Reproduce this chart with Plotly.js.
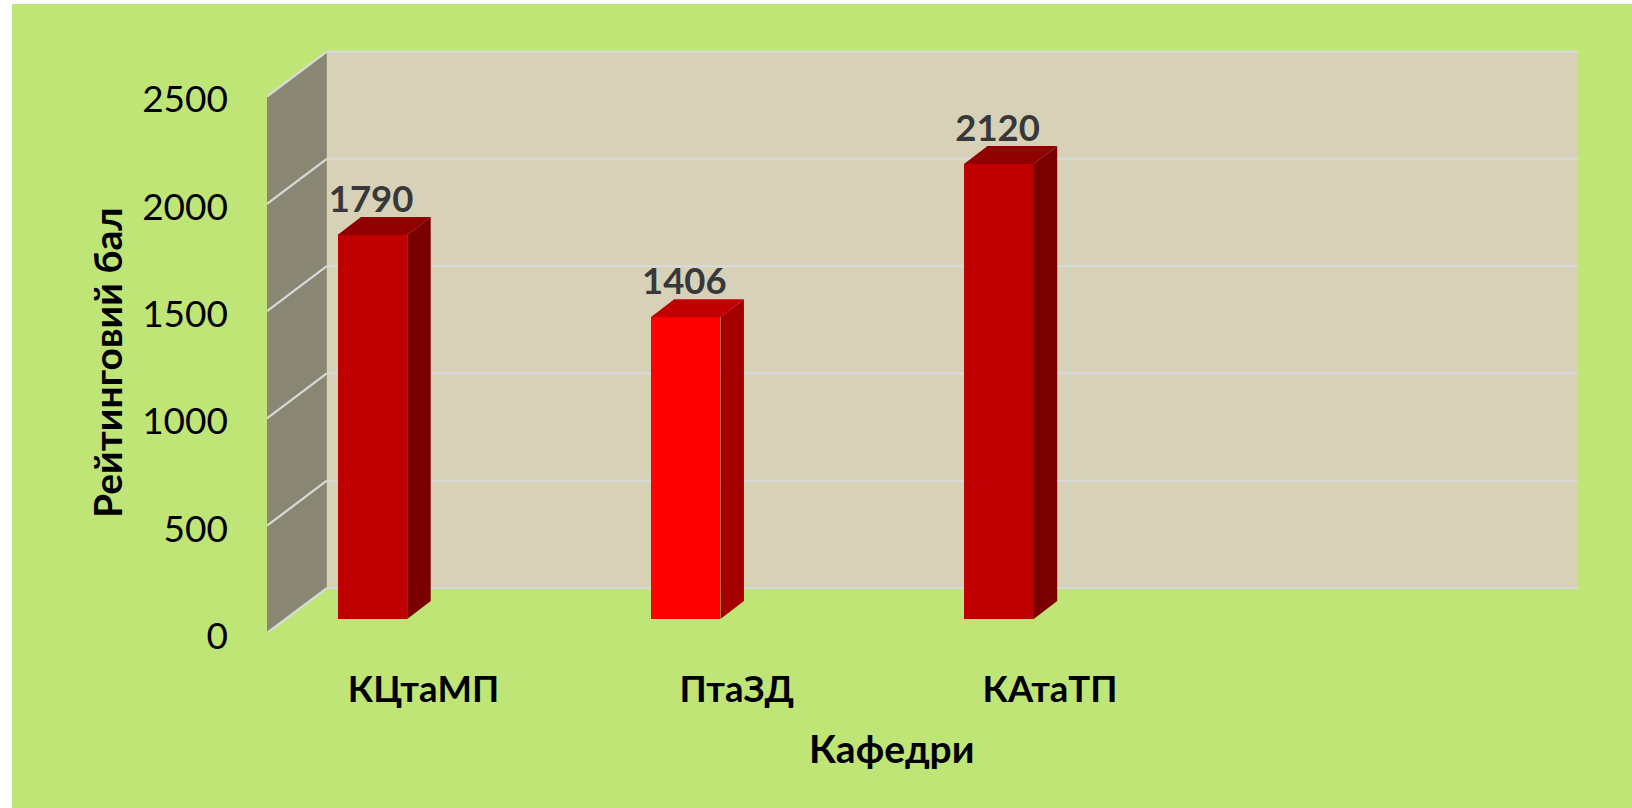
<!DOCTYPE html>
<html><head><meta charset="utf-8">
<script src="https://cdn.plot.ly/plotly-3.0.1.min.js"></script>
<style>html,body{margin:0;padding:0;background:#fff;overflow:hidden}#c{position:absolute;left:12px;top:4px;width:1620px;height:804px}</style>
</head><body><div id="c"></div>
<script>
const categories = ['КЦтаМП','ПтаЗД','КАтаТП'];
const values = [1790,1406,2120];
const yTicks = [0,500,1000,1500,2000,2500];
const frontColors = ['#C00000','#FF0000','#C00000'];
const sideColors = ['#7A0000','#A50000','#7A0000'];
const topColors = ['#900000','#C00000','#900000'];
const xTitle = 'Кафедри';
const yTitle = 'Рейтинговий бал';

const FONT = 'Lato, Carlito, Calibri, sans-serif';
const GREEN = '#BFE576', WALL = '#D7D1B8', SIDE = '#8A8674', GRID = '#D9D9D9';
const xRange = [-0.4996, 3.6855], yRange = [0, 2740];
const wallDx = 0.1909, wallDy = 209.5;
const barBase = 65.2, barOffset = -0.2745, barWidth = 0.2225, barDx = 0.075, barDy = 83.8;
const xL = xRange[0], xR = xRange[1];

const shapes = [];
const poly = (pts, fill) => shapes.push({type:'path', xref:'x', yref:'y', layer:'below',
  path:'M'+pts.map(p=>p[0]+','+p[1]).join('L')+'Z', fillcolor:fill, line:{width:0}});
const topTick = yTicks[yTicks.length-1];
poly([[xL+wallDx,wallDy],[xR,wallDy],[xR,topTick+wallDy],[xL+wallDx,topTick+wallDy]], WALL);
poly([[xL,0],[xL+wallDx,wallDy],[xL+wallDx,topTick+wallDy],[xL,topTick]], SIDE);
yTicks.forEach(t=>{
  const l = {xref:'x',yref:'y',layer:'below',type:'line',line:{color:GRID,width:2.2}};
  shapes.push({...l,x0:xL,y0:t,x1:xL+wallDx,y1:t+wallDy});
  shapes.push({...l,x0:xL+wallDx,y0:t+wallDy,x1:xR,y1:t+wallDy});
});

const traces = [{
  type:'bar', x:categories.map((_,i)=>i), y:values, base:barBase, offset:barOffset, width:barWidth,
  marker:{color:frontColors,line:{width:0}}, hoverinfo:'skip', showlegend:false
}];
const face = (xs,ys,c)=>traces.push({type:'scatter',mode:'lines',x:xs,y:ys,fill:'toself',fillcolor:c,
  line:{width:0,color:c},hoverinfo:'skip',showlegend:false});
values.forEach((v,i)=>{
  const x0=i+barOffset, x1=x0+barWidth, y0=barBase, y1=barBase+v;
  face([x1,x1+barDx,x1+barDx,x1,x1],[y0,y0+barDy,y1+barDy,y1,y0],sideColors[i]);
  face([x0,x1,x1+barDx,x0+barDx,x0],[y1,y1,y1+barDy,y1+barDy,y1],topColors[i]);
});
traces.push({type:'scatter',mode:'text',x:categories.map((_,i)=>i+barOffset+barWidth/2-0.004),
  y:values.map(v=>v+barBase+150),text:values.map(String),textposition:'middle center',
  textfont:{family:FONT,size:36.5,weight:700,color:'#38383A'},hoverinfo:'skip',showlegend:false});

const titleFont = {family:FONT,size:39,weight:700,color:'#000'};
const layout = {
  width:1620,height:804,paper_bgcolor:GREEN,plot_bgcolor:'rgba(0,0,0,0)',
  margin:{l:255,r:54,t:40.75,b:174.7,pad:0},showlegend:false,bargap:0,shapes,
  font:{family:FONT,color:'#000'},
  xaxis:{range:xRange,tickmode:'array',tickvals:categories.map((_,i)=>i),ticktext:categories,
    showgrid:false,zeroline:false,showline:false,ticks:'',ticklabelstandoff:31,
    tickfont:{family:FONT,size:36.5,weight:700,color:'#000'},automargin:false},
  yaxis:{range:yRange,tickmode:'array',tickvals:yTicks,ticktext:yTicks.map(String),
    showgrid:false,zeroline:false,showline:false,ticks:'',ticklabelstandoff:38,ticklabelshift:3,
    tickfont:{family:FONT,size:37,color:'#000'},automargin:false},
  annotations:[
    {xref:'paper',yref:'paper',x:0.4767,y:-0.1949,text:xTitle,showarrow:false,xanchor:'center',yanchor:'middle',font:titleFont},
    {xref:'paper',yref:'paper',x:-0.122,y:0.4593,text:yTitle,textangle:-90,showarrow:false,xanchor:'center',yanchor:'middle',font:titleFont}
  ]
};
Plotly.newPlot('c',traces,layout,{displayModeBar:false,responsive:false});
</script></body></html>
